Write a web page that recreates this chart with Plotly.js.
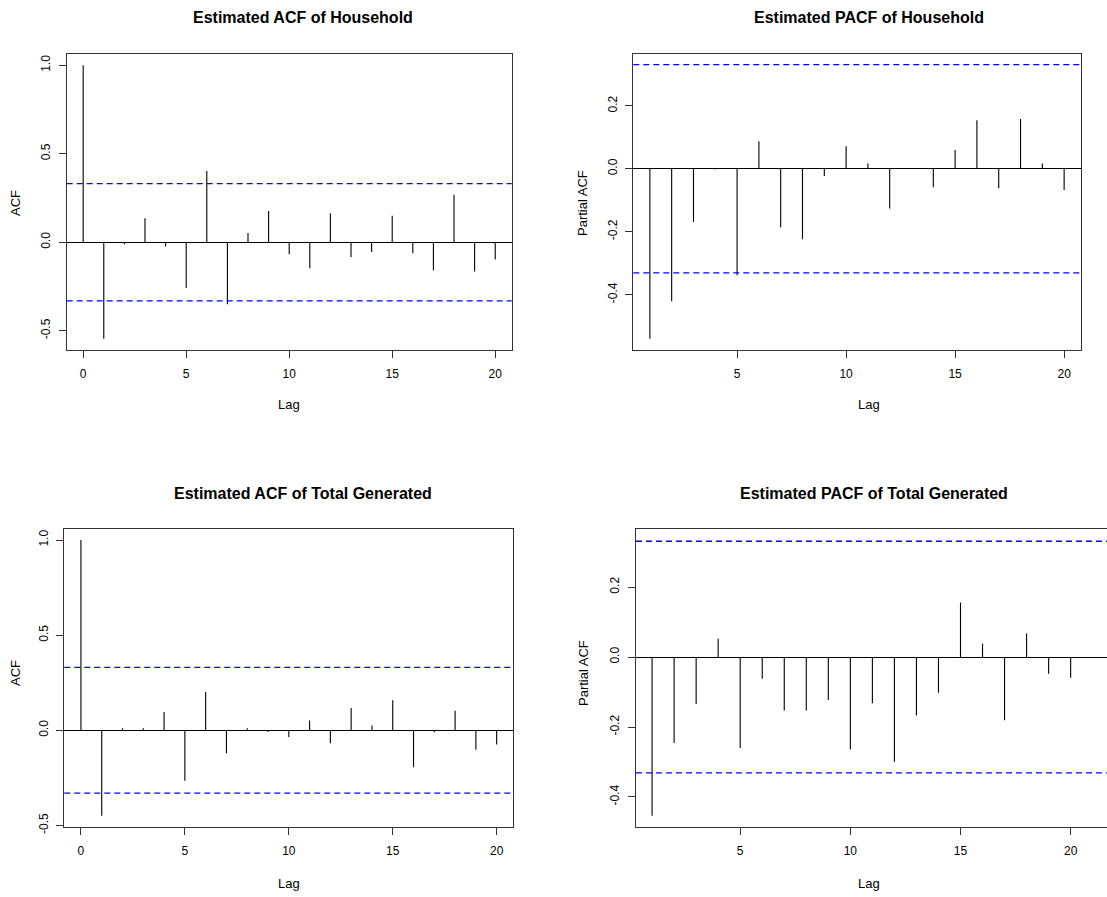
<!DOCTYPE html>
<html>
<head>
<meta charset="utf-8">
<script src="https://cdn.plot.ly/plotly-3.0.1.min.js"></script>
<style>html,body{margin:0;padding:0;background:#fff;}#chart{width:1107px;height:897px;}</style>
</head>
<body>
<div id="chart"></div>
<script>
// ---- data ----
const lagsAcf = [0,1,2,3,4,5,6,7,8,9,10,11,12,13,14,15,16,17,18,19,20];
const lagsPacf = [1,2,3,4,5,6,7,8,9,10,11,12,13,14,15,16,17,18,19,20];

const acfHousehold = [1.0,-0.545,-0.011,0.135,-0.024,-0.258,0.402,-0.350,0.053,0.177,-0.068,-0.147,0.164,-0.083,-0.055,0.150,-0.062,-0.158,0.269,-0.165,-0.098];
const pacfHousehold = [-0.540,-0.421,-0.169,-0.002,-0.338,0.088,-0.186,-0.224,-0.023,0.072,0.017,-0.126,0.001,-0.059,0.060,0.154,-0.062,0.158,0.017,-0.067];
const acfTotal = [1.0,-0.450,0.010,0.010,0.096,-0.266,0.201,-0.121,0.010,-0.009,-0.035,0.051,-0.068,0.117,0.025,0.158,-0.194,-0.010,0.103,-0.102,-0.075];
const pacfTotal = [-0.454,-0.246,-0.134,0.052,-0.260,-0.062,-0.153,-0.153,-0.123,-0.264,-0.132,-0.299,-0.167,-0.102,0.156,0.038,-0.181,0.067,-0.048,-0.059];

const ciBound = [0.331, 0.331, 0.331, 0.331];

const panelTitles = ["Estimated ACF of Household","Estimated PACF of Household","Estimated ACF of Total Generated","Estimated PACF of Total Generated"];
const yLabels = ["ACF","Partial ACF","ACF","Partial ACF"];
const xLabel = "Lag";
const xTicksAcf = [0,5,10,15,20];
const xTicksPacf = [5,10,15,20];
const yTicksAcf = [-0.5,0.0,0.5,1.0];
const yTickTextAcf = ["-0.5","0.0","0.5","1.0"];
const yTicksPacf = [-0.4,-0.2,0.0,0.2];
const yTickTextPacf = ["-0.4","-0.2","0.0","0.2"];

// ---- layout geometry (pixels in 1107x897 page) ----
const W = 1107, H = 897;
const boxes = [
  {l:66.7, r:511.7, t:54.3, b:349.7, xr:[-0.8,20.8],  yr:[-0.607,1.062]},
  {l:633.3,r:1080.7,t:54.3, b:349.7, xr:[0.24,20.76], yr:[-0.575,0.364]},
  {l:64.3, r:513.3, t:529,  b:826.7, xr:[-0.8,20.8],  yr:[-0.507,1.058]},
  {l:636,  r:1107,  t:529,  b:826.7, xr:[0.27,21.65], yr:[-0.485,0.366]}
];
const titlePos = [[303,18],[869,18],[303,493],[874,493]];
const xLabPos = [[289,405],[869,405],[289,883],[869,883]];
const yLabPos = [[15,203],[582,203],[15,673],[583,673]];

const series = [
  {x: lagsAcf,  y: acfHousehold,  xt: xTicksAcf,  yt: yTicksAcf,  ytt: yTickTextAcf},
  {x: lagsPacf, y: pacfHousehold, xt: xTicksPacf, yt: yTicksPacf, ytt: yTickTextPacf},
  {x: lagsAcf,  y: acfTotal,      xt: xTicksAcf,  yt: yTicksAcf,  ytt: yTickTextAcf},
  {x: lagsPacf, y: pacfTotal,     xt: xTicksPacf, yt: yTicksPacf, ytt: yTickTextPacf}
];

const traces = [];
const layout = {
  width: W, height: H,
  margin: {l:0, r:0, t:0, b:0},
  paper_bgcolor: '#fff', plot_bgcolor: '#fff',
  showlegend: false,
  font: {family: 'Liberation Sans, Arial, sans-serif', color: '#000', size: 12},
  shapes: [], annotations: []
};

series.forEach((s, i) => {
  const n = i + 1;
  const xa = 'x' + (n === 1 ? '' : n), ya = 'y' + (n === 1 ? '' : n);
  const bx = boxes[i];
  const sx = [], sy = [];
  s.x.forEach((lag, k) => { sx.push(lag, lag, null); sy.push(0, s.y[k], null); });
  traces.push({type:'scatter', mode:'lines', x: sx, y: sy, xaxis: xa, yaxis: ya,
    line: {color:'#000', width:1.1}, hoverinfo:'skip', connectgaps:false});

  const axBase = {showline:true, linecolor:'#333', linewidth:1, ticks:'outside', ticklen:7,
    tickcolor:'#333', tickwidth:1, showgrid:false, tickfont:{size:12, color:'#000'}};
  layout['xaxis' + (n === 1 ? '' : n)] = Object.assign({}, axBase, {
    domain:[bx.l / W, bx.r / W], range: bx.xr, anchor: ya, tickmode:'array', tickvals: s.xt,
    ticktext: s.xt.map(String), zeroline:false, mirror: true, ticklabelstandoff: 6
  });
  layout['yaxis' + (n === 1 ? '' : n)] = Object.assign({}, axBase, {
    domain:[1 - bx.b / H, 1 - bx.t / H], range: bx.yr, anchor: xa, tickmode:'array',
    tickvals: s.yt, ticktext: s.ytt,
    tickangle: -90, zeroline: true, zerolinecolor:'#000', zerolinewidth:1,
    mirror: i === 3 ? false : true, ticklabelstandoff: 4
  });

  [ciBound[i], -ciBound[i]].forEach(c => {
    layout.shapes.push({type:'line', xref: xa + ' domain', yref: ya, x0:0, x1:1, y0:c, y1:c,
      line:{color:'#0000FF', width:1.3, dash:'6px,4px'}});
  });

  layout.annotations.push({text:'<b>' + panelTitles[i] + '</b>', xref:'paper', yref:'paper',
    x: titlePos[i][0] / W, y: 1 - titlePos[i][1] / H, showarrow:false, xanchor:'center', yanchor:'middle',
    font:{size:16, color:'#000'}});
  layout.annotations.push({text: xLabel, xref:'paper', yref:'paper',
    x: xLabPos[i][0] / W, y: 1 - xLabPos[i][1] / H, showarrow:false, xanchor:'center', yanchor:'middle',
    font:{size:13, color:'#000'}});
  layout.annotations.push({text: yLabels[i], xref:'paper', yref:'paper', textangle:-90,
    x: yLabPos[i][0] / W, y: 1 - yLabPos[i][1] / H, showarrow:false, xanchor:'center', yanchor:'middle',
    font:{size:13, color:'#000'}});
});

Plotly.newPlot('chart', traces, layout, {staticPlot:true, displayModeBar:false});
</script>
</body>
</html>
